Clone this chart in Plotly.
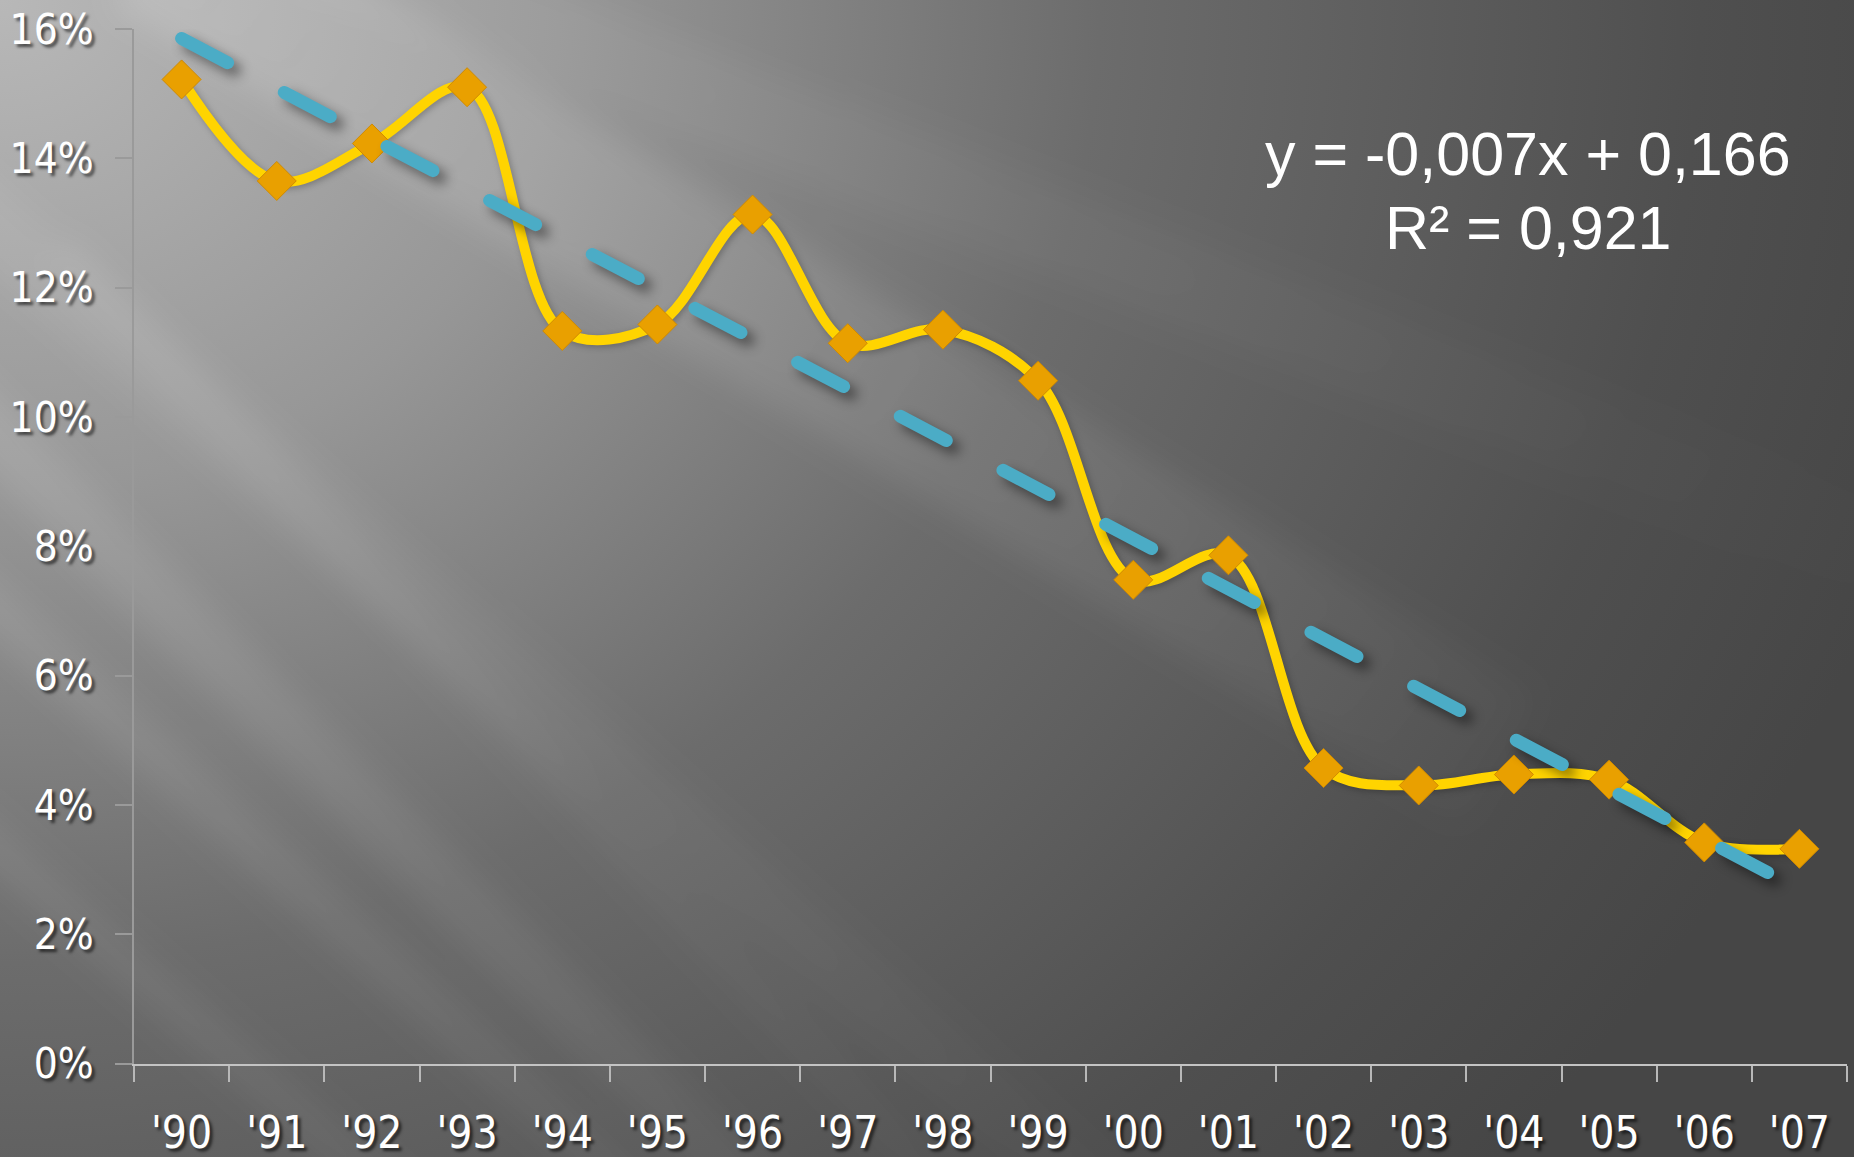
import base64
import numpy as np
import plotly.graph_objects as go

# ---- data ----
years = ["'90", "'91", "'92", "'93", "'94", "'95", "'96", "'97", "'98",
         "'99", "'00", "'01", "'02", "'03", "'04", "'05", "'06", "'07"]
rate = [0.1522, 0.1365, 0.1423, 0.1510, 0.1133, 0.1143, 0.1313, 0.1114, 0.1135,
        0.1056, 0.0748, 0.0786, 0.0457, 0.0430, 0.0447, 0.0439, 0.0342, 0.0332]
y_ticks = [0, 0.02, 0.04, 0.06, 0.08, 0.10, 0.12, 0.14, 0.16]
eq_line1 = "y = -0,007x + 0,166"
eq_line2 = "R² = 0,921"

# linear trend (least squares over the year index 1..n)
idx = np.arange(1, len(rate) + 1)
slope, intercept = np.polyfit(idx, rate, 1)
trend = slope * idx + intercept

W, H = 1854, 1157

# ---- decorative background (gradient + light rays) as an SVG image ----
rays = [
    # (x0, y0, x1, y1, width, opacity)
    (150, -60, 1500, 760, 150, 0.30),
    (-60, 380, 760, 1200, 60, 0.22),
    (-60, 560, 700, 1250, 45, 0.20),
    (-60, 800, 420, 1220, 40, 0.18),
    (-60, 180, 1100, 1200, 70, 0.14),
    (60, 250, 1000, 1250, 35, 0.14),
    (300, -60, 1900, 560, 90, 0.12),
]
polys = []
for x0, y0, x1, y1, w, op in rays:
    dx, dy = x1 - x0, y1 - y0
    L = (dx * dx + dy * dy) ** 0.5
    nx, ny = -dy / L * w / 2, dx / L * w / 2
    pts = [(x0 + nx, y0 + ny), (x1 + nx, y1 + ny), (x1 - nx, y1 - ny), (x0 - nx, y0 - ny)]
    p = " ".join(f"{a:.1f},{b:.1f}" for a, b in pts)
    polys.append(f"<polygon points='{p}' opacity='{op}'/>")

svg = f"""<svg xmlns='http://www.w3.org/2000/svg' width='{W}' height='{H}' viewBox='0 0 {W} {H}' preserveAspectRatio='none'>
<defs>
<radialGradient id='g' gradientUnits='userSpaceOnUse' cx='0' cy='0' r='1' gradientTransform='scale(2000 1750)'>
<stop offset='0' stop-color='#b8b8b8'/>
<stop offset='0.28' stop-color='#979797'/>
<stop offset='0.55' stop-color='#6c6c6c'/>
<stop offset='0.85' stop-color='#4f4f4f'/>
<stop offset='1' stop-color='#464646'/>
</radialGradient>
<linearGradient id='fade' gradientUnits='userSpaceOnUse' x1='0' y1='0' x2='1500' y2='1150'>
<stop offset='0' stop-color='#ffffff' stop-opacity='0.55'/>
<stop offset='0.6' stop-color='#ffffff' stop-opacity='0.25'/>
<stop offset='1' stop-color='#ffffff' stop-opacity='0'/>
</linearGradient>
<filter id='b' x='-20%' y='-20%' width='140%' height='140%'><feGaussianBlur stdDeviation='16'/></filter>
</defs>
<rect width='{W}' height='{H}' fill='url(#g)'/>
<g filter='url(#b)' fill='url(#fade)'>
{''.join(polys)}
</g>
</svg>"""
bg_src = "data:image/svg+xml;base64," + base64.b64encode(svg.encode()).decode()

narrow = "Liberation Sans Narrow, DejaVu Sans Condensed, Arial Narrow, sans-serif"
shadow = "3px 3px 3px rgba(0,0,0,0.6)"

fig = go.Figure()
fig.add_trace(go.Scatter(
    x=years, y=rate, mode="lines+markers",
    line=dict(color="#FFD400", width=10, shape="spline", smoothing=1),
    marker=dict(symbol="diamond", size=30, color="#E9A000",
                line=dict(color="#D08A00", width=1)),
    showlegend=False, hoverinfo="skip"))
fig.add_trace(go.Scatter(
    x=years, y=trend, mode="lines",
    line=dict(color="#4BACC6", width=13, dash="52px,64px"),
    showlegend=False, hoverinfo="skip"))

fig.update_layout(
    template="none",
    width=W, height=H, autosize=False,
    margin=dict(l=0, r=0, t=0, b=0, pad=0),
    paper_bgcolor="#6a6a6a",
    plot_bgcolor="rgba(0,0,0,0.05)",
    images=[dict(source=bg_src, xref="paper", yref="paper", x=0, y=1,
                 sizex=1, sizey=1, xanchor="left", yanchor="top",
                 sizing="stretch", layer="below")],
    xaxis=dict(domain=[134 / W, 1847 / W], type="category",
               range=[-0.5, len(years) - 0.5],
               tickson="boundaries", ticks="outside", ticklen=16,
               tickwidth=1.5, tickcolor="#b8b8b8",
               showline=True, linecolor="#c4c4c4", linewidth=2,
               showgrid=False, zeroline=False, automargin=False,
               tickfont=dict(family=narrow, size=44, color="white", shadow=shadow),
               ticklabelstandoff=30),
    yaxis=dict(domain=[(H - 1063.5) / H, (H - 29) / H], range=[0, 0.16],
               tickvals=y_ticks, tickformat=".0%",
               ticks="outside", ticklen=17, tickwidth=1.5, tickcolor="#9a9a9a",
               showline=True, linecolor="#9a9a9a", linewidth=2,
               showgrid=False, zeroline=False, automargin=False,
               tickfont=dict(family=narrow, size=42, color="white", shadow=shadow),
               ticklabelstandoff=13),
    annotations=[
        dict(text=eq_line1, xref="paper", yref="paper", x=1528 / W, y=(H - 154) / H,
             xanchor="center", yanchor="middle", showarrow=False,
             font=dict(family="Liberation Sans, Arial, sans-serif", size=61, color="white")),
        dict(text=eq_line2, xref="paper", yref="paper", x=1528 / W, y=(H - 228) / H,
             xanchor="center", yanchor="middle", showarrow=False,
             font=dict(family="Liberation Sans, Arial, sans-serif", size=61, color="white")),
    ],
)

post = """
document.documentElement.style.margin = '0';
document.body.style.margin = '0';
document.body.style.overflow = 'hidden';
var gd = document.getElementById('{plot_id}');
function fx(){
  var tr = gd.querySelectorAll('.scatterlayer .trace');
  if(tr.length < 2) return;
  tr[1].querySelectorAll('path.js-line').forEach(function(p){
    p.style.strokeLinecap = 'round';
    p.style.filter = 'drop-shadow(7px 7px 6px rgba(0,0,0,0.45))';
  });
  tr[0].querySelectorAll('path.js-line').forEach(function(p){
    p.style.filter = 'drop-shadow(2px 2px 3px rgba(0,0,0,0.25))';
  });
}
fx();
if (gd.on) gd.on('plotly_afterplot', fx);
"""

fig.write_html("out.html", post_script=post, config={"displayModeBar": False})
